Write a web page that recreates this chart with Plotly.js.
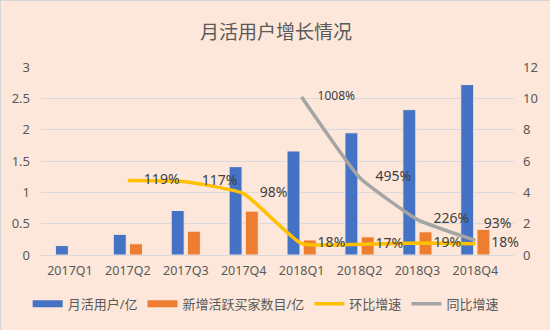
<!DOCTYPE html>
<html>
<head>
<meta charset="utf-8">
<script src="https://cdn.plot.ly/plotly-3.0.1.min.js"></script>
<style>
html,body{margin:0;padding:0;background:#FDE7DA;}
#chart{width:550px;height:330px;box-sizing:border-box;border-left:1px solid #D6D6D6;border-top:1px solid #D6D6D6;}
</style>
</head>
<body>
<div id="chart"></div>
<script>
const categories = ['2017Q1','2017Q2','2017Q3','2017Q4','2018Q1','2018Q2','2018Q3','2018Q4'];
const mau = [0.15, 0.33, 0.71, 1.41, 1.66, 1.95, 2.32, 2.72];
const newBuyers = [null, 0.18, 0.38, 0.70, 0.24, 0.29, 0.37, 0.41];
const qoqCats = ['2017Q2','2017Q3','2017Q4','2018Q1','2018Q2','2018Q3','2018Q4'];
const qoq = [1.19, 1.17, 0.98, 0.18, 0.17, 0.19, 0.18];
const qoqLabels = ['119%','117%','98%','18%','17%','19%','18%'];
const yoyCats = ['2018Q1','2018Q2','2018Q3','2018Q4'];
const yoy = [10.08, 4.95, 2.26, 0.93];
const yoyLabels = ['1008%','495%','226%','93%'];

const FONT = 'Noto Sans, Noto Sans CJK SC, sans-serif';
const TXT = '#595959';
const BLUE = '#4472C4', ORANGE = '#ED7D31', YELLOW = '#FFC000', GRAY = '#A5A5A5';

const traces = [
  {type:'bar', name:'月活用户/亿', x:categories, y:mau, showlegend:false,
   marker:{color:BLUE, line:{color:'#FDE7DA', width:1}}, hoverinfo:'skip'},
  {type:'bar', name:'新增活跃买家数目/亿', x:categories, y:newBuyers, showlegend:false,
   marker:{color:ORANGE, line:{color:'#FDE7DA', width:1}}, hoverinfo:'skip'},
  {type:'scatter', name:'环比增速', x:qoqCats, y:qoq, mode:'lines', showlegend:false,
   line:{color:YELLOW, width:3.5, shape:'spline', smoothing:0.4}, hoverinfo:'skip'},
  {type:'scatter', name:'同比增速', x:yoyCats, y:yoy, yaxis:'y2', mode:'lines', showlegend:false,
   line:{color:GRAY, width:3.5, shape:'spline', smoothing:0.4}, hoverinfo:'skip'},
  // data labels
  {type:'scatter', x:qoqCats, y:qoq, mode:'markers+text', showlegend:false, cliponaxis:false,
   marker:{size:24, opacity:0}, text:qoqLabels, textposition:'middle right',
   textfont:{family:FONT, size:14, color:'#404040'}, hoverinfo:'skip'},
  {type:'scatter', x:yoyCats, y:yoy, yaxis:'y2', mode:'markers+text', showlegend:false, cliponaxis:false,
   marker:{size:[24,24,24,12], opacity:0}, text:yoyLabels,
   textposition:['middle right','middle right','middle right','top right'],
   textfont:{family:FONT, size:[12,14,14,14], color:'#404040'}, hoverinfo:'skip'},
  // legend entries (Excel-style swatches)
  {type:'scatter', name:'月活用户/亿', x:[null], y:[null], mode:'lines', line:{color:BLUE, width:7}},
  {type:'scatter', name:'新增活跃买家数目/亿', x:[null], y:[null], mode:'lines', line:{color:ORANGE, width:7}},
  {type:'scatter', name:'环比增速', x:[null], y:[null], mode:'lines', line:{color:YELLOW, width:3.5}},
  {type:'scatter', name:'同比增速', x:[null], y:[null], mode:'lines', line:{color:GRAY, width:3.5}}
];

const layout = {
  width:550, height:330,
  paper_bgcolor:'#FDE7DA', plot_bgcolor:'#FDE7DA',
  margin:{l:40, r:37, t:66, b:76},
  font:{family:FONT, color:TXT, size:13},
  title:{text:'月活用户增长情况', x:0.5, xanchor:'center', y:0.905, yanchor:'middle',
         font:{family:FONT, size:19, color:TXT}},
  barmode:'group', bargap:0.44, bargroupgap:0.2,
  showlegend:true,
  legend:{orientation:'h', x:0.475, xanchor:'center', y:-0.26, yanchor:'middle',
          font:{family:FONT, size:13, color:TXT}, traceorder:'normal', bgcolor:'rgba(0,0,0,0)'},
  xaxis:{type:'category', categoryorder:'array', categoryarray:categories,
         showgrid:false, showline:true, linecolor:'#D9D9D9', linewidth:1,
         ticks:'', tickfont:{size:12.5, color:TXT}, ticklabelstandoff:4, fixedrange:true},
  yaxis:{range:[0,3], dtick:0.5, showgrid:true, gridcolor:'#D9D9DE', gridwidth:1,
         zeroline:false, showline:false, ticks:'', tickfont:{size:13, color:TXT},
         ticklabelstandoff:10, fixedrange:true},
  yaxis2:{range:[0,12], dtick:2, overlaying:'y', side:'right', showgrid:false,
          zeroline:false, showline:false, ticks:'', tickfont:{size:13, color:TXT},
          ticklabelstandoff:8, fixedrange:true}
};

Plotly.newPlot('chart', traces, layout, {displayModeBar:false, staticPlot:true});
</script>
</body>
</html>
